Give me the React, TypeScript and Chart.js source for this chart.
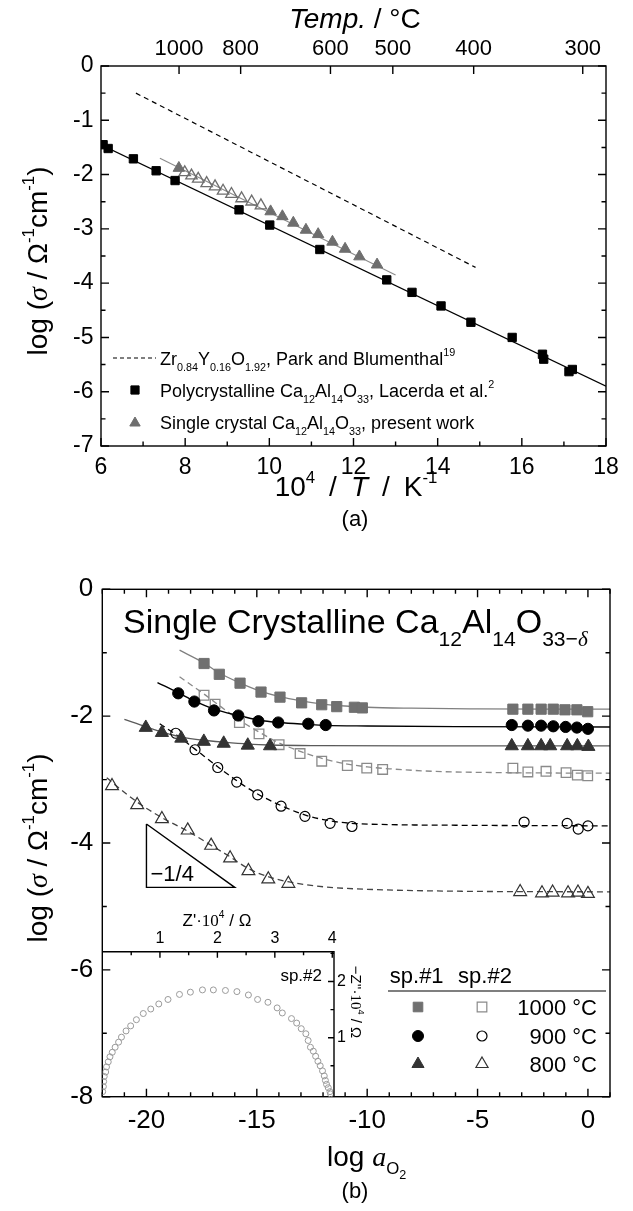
import React, { useEffect, useRef } from "react";
import { Chart, registerables } from "chart.js";
Chart.register(...registerables);

const SANS = "'Liberation Sans', Arial, Helvetica, sans-serif";
const SERIF = "'Liberation Serif', 'Times New Roman', serif";

type P = [number, number];

// ---------- (a) Arrhenius plot ----------
const tempTicks = [1000, 800, 600, 500, 400, 300];
const xTicksA = [6, 8, 10, 12, 14, 16, 18];
const yTicksA = [-7, -6, -5, -4, -3, -2, -1, 0];
const polyCa: P[] = [
  [6.05, -1.45], [6.17, -1.52], [6.77, -1.71], [7.31, -1.93], [7.76, -2.11], [9.28, -2.65],
  [10.01, -2.93], [11.2, -3.38], [12.79, -3.94], [13.39, -4.17], [14.08, -4.42], [14.79, -4.72],
  [15.77, -5.0], [16.49, -5.31], [16.52, -5.4], [17.12, -5.63], [17.2, -5.59],
];
const singleFilled: P[] = [
  [7.85, -1.88], [10.03, -2.68], [10.31, -2.77], [10.57, -2.89], [10.87, -3.02], [11.16, -3.1],
  [11.5, -3.24], [11.8, -3.37], [12.14, -3.51], [12.56, -3.66],
];
const singleHollow: P[] = [
  [7.99, -1.96], [8.15, -2.02], [8.31, -2.08], [8.51, -2.16], [8.71, -2.22], [8.9, -2.3],
  [9.1, -2.36], [9.34, -2.44], [9.58, -2.5], [9.8, -2.57],
];
const polyFit: P[] = [[6, -1.45], [18, -5.9]];
const singleFit: P[] = [[7.4, -1.7], [13.0, -3.85]];
const zrLine: P[] = [[6.83, -0.5], [14.9, -3.71]];

// ---------- (b) oxygen activity plot ----------
const xTicksB = [-20, -15, -10, -5, 0];
const yTicksB = [-8, -6, -4, -2, 0];
const sp1T1000: P[] = [
  [-17.39, -1.17], [-16.7, -1.34], [-15.76, -1.48], [-14.81, -1.62], [-13.95, -1.7], [-12.97, -1.79],
  [-12.06, -1.82], [-11.38, -1.85], [-10.58, -1.86], [-10.22, -1.87],
  [-3.4, -1.89], [-2.72, -1.89], [-2.12, -1.89], [-1.57, -1.89], [-1.04, -1.9], [-0.5, -1.9], [-0.01, -1.93],
];
const sp1T900: P[] = [
  [-18.56, -1.64], [-17.83, -1.77], [-16.94, -1.91], [-15.84, -1.99], [-14.93, -2.08], [-14.03, -2.1],
  [-12.67, -2.12], [-11.88, -2.14],
  [-3.45, -2.14], [-2.72, -2.15], [-2.12, -2.15], [-1.57, -2.16], [-1.01, -2.17], [-0.5, -2.18], [0.0, -2.2],
];
const sp1T800: P[] = [
  [-20.03, -2.18], [-19.3, -2.26], [-18.42, -2.35], [-17.4, -2.4], [-16.5, -2.43], [-15.41, -2.46], [-14.4, -2.47],
  [-3.45, -2.47], [-2.72, -2.47], [-2.12, -2.47], [-1.71, -2.47], [-0.94, -2.47], [-0.48, -2.47], [0.02, -2.48],
];
const sp2T1000: P[] = [
  [-17.39, -1.67], [-16.89, -1.81], [-15.79, -2.1], [-14.9, -2.28], [-13.99, -2.45], [-13.04, -2.59],
  [-12.06, -2.71], [-10.9, -2.78], [-10.02, -2.82], [-9.3, -2.84],
  [-3.4, -2.82], [-2.72, -2.88], [-1.9, -2.87], [-0.99, -2.89], [-0.48, -2.93], [-0.01, -2.94],
];
const sp2T900: P[] = [
  [-18.67, -2.27], [-17.8, -2.53], [-16.77, -2.81], [-15.91, -3.04], [-14.96, -3.24], [-13.9, -3.42],
  [-12.82, -3.58], [-11.68, -3.69], [-10.69, -3.74],
  [-2.89, -3.67], [-0.94, -3.69], [-0.44, -3.78], [0.0, -3.73],
];
const sp2T800: P[] = [
  [-21.56, -3.1], [-20.42, -3.4], [-19.3, -3.62], [-18.13, -3.8], [-17.07, -4.04], [-16.21, -4.24],
  [-15.38, -4.44], [-14.48, -4.57], [-13.57, -4.64],
  [-3.07, -4.77], [-2.08, -4.79], [-1.6, -4.78], [-0.9, -4.79], [-0.45, -4.78], [0.0, -4.8],
];
const fit1000a: P[] = [
  [-18.5, -0.96], [-17.4, -1.16], [-16.7, -1.32], [-15.8, -1.47], [-14.8, -1.61], [-14, -1.69], [-13, -1.76],
  [-12, -1.81], [-11, -1.84], [-10, -1.86], [-8, -1.875], [-5, -1.885], [-2, -1.89], [1, -1.89],
];
const fit900a: P[] = [
  [-19.5, -1.47], [-18.56, -1.63], [-17.83, -1.76], [-16.94, -1.89], [-15.84, -1.99], [-14.93, -2.06],
  [-14, -2.1], [-12.7, -2.13], [-11.9, -2.145], [-10, -2.155], [-6, -2.165], [1, -2.17],
];
const fit800a: P[] = [
  [-21, -2.05], [-20, -2.17], [-19.2, -2.26], [-18.4, -2.33], [-17.4, -2.38], [-16.5, -2.41], [-15.4, -2.44],
  [-14.4, -2.455], [-12, -2.465], [-8, -2.47], [1, -2.47],
];
const fit1000b: P[] = [
  [-18.5, -1.38], [-17.4, -1.65], [-16.9, -1.78], [-15.8, -2.06], [-14.9, -2.25], [-14, -2.42], [-13, -2.56],
  [-12, -2.67], [-11, -2.75], [-10, -2.8], [-9, -2.83], [-7, -2.87], [-4, -2.89], [1, -2.9],
];
const fit900b: P[] = [
  [-19.4, -2.12], [-18.67, -2.29], [-17.8, -2.52], [-16.8, -2.79], [-15.9, -3.02], [-15, -3.22], [-13.9, -3.41],
  [-12.8, -3.56], [-11.7, -3.65], [-10.7, -3.69], [-9, -3.71], [-6, -3.72], [1, -3.73],
];
const fit800b: P[] = [
  [-21.8, -2.97], [-21.5, -3.06], [-20.4, -3.36], [-19.3, -3.6], [-18.1, -3.82], [-17.1, -4.03], [-16.2, -4.22],
  [-15.4, -4.4], [-14.5, -4.53], [-13.6, -4.61], [-12, -4.69], [-10, -4.73], [-6, -4.76], [1, -4.77],
];
const slopeTriangle: P[] = [[-20, -3.7], [-20, -4.7], [-16, -4.7], [-20, -3.7]];

// ---------- inset: impedance arc ----------
const insetXTicks = [1, 2, 3, 4];
const insetYTicks = [1, 2];
const insetArc: P[] = [
  [0.003, 0.04], [0.015, 0.13], [0.02, 0.22], [0.03, 0.31], [0.055, 0.39], [0.07, 0.48], [0.1, 0.57],
  [0.13, 0.66], [0.17, 0.74], [0.22, 0.83], [0.28, 0.92], [0.33, 1.01], [0.41, 1.12], [0.49, 1.21],
  [0.59, 1.32], [0.71, 1.43], [0.84, 1.51], [0.98, 1.6], [1.14, 1.68], [1.34, 1.77], [1.53, 1.81],
  [1.74, 1.85], [1.93, 1.85], [2.14, 1.84], [2.34, 1.82], [2.54, 1.76], [2.7, 1.68], [2.88, 1.63],
  [3.04, 1.53], [3.13, 1.44], [3.29, 1.34], [3.38, 1.26], [3.46, 1.16], [3.54, 1.07], [3.58, 0.95],
  [3.62, 0.83], [3.67, 0.76], [3.71, 0.67], [3.75, 0.58], [3.79, 0.5], [3.83, 0.41], [3.86, 0.32],
  [3.88, 0.24], [3.9, 0.17], [3.93, 0.11], [3.96, 0.04], [3.97, 0.0],
];

const toPts = (a: P[]) => a.map(([x, y]) => ({ x, y }));

type Seg = { t: string; i?: boolean; f?: string; s?: number; d?: number };
const SUB = { s: 0.6, d: 0.36 };
const SUP = { s: 0.6, d: -0.45 };

function segFont(sg: Seg, size: number) {
  const sz = size * (sg.s ?? 1);
  return `${sg.i ? "italic " : ""}${sz}px ${sg.f === "serif" ? SERIF : SANS}`;
}

function drawRich(ctx: CanvasRenderingContext2D, segs: Seg[], x: number, y: number, size: number, align: "left" | "center" | "right" = "left") {
  ctx.save();
  ctx.textBaseline = "alphabetic";
  ctx.textAlign = "left";
  ctx.fillStyle = "#000";
  let total = 0;
  const ws = segs.map((sg) => {
    ctx.font = segFont(sg, size);
    const w = ctx.measureText(sg.t).width;
    total += w;
    return w;
  });
  let cx = align === "left" ? x : align === "center" ? x - total / 2 : x - total;
  segs.forEach((sg, k) => {
    ctx.font = segFont(sg, size);
    ctx.fillText(sg.t, cx, y + (sg.d ?? 0) * size);
    cx += ws[k];
  });
  ctx.restore();
}

function drawMarker(ctx: CanvasRenderingContext2D, kind: string, x: number, y: number, r: number, fill: string | null, stroke: string, lw = 1.2) {
  ctx.save();
  ctx.beginPath();
  if (kind === "rect") {
    const h = r * Math.SQRT1_2;
    ctx.rect(x - h, y - h, 2 * h, 2 * h);
  } else if (kind === "circle") {
    ctx.arc(x, y, r, 0, Math.PI * 2);
  } else {
    const a1 = (2 * Math.PI) / 3;
    ctx.moveTo(x, y - r);
    ctx.lineTo(x + r * Math.sin(a1), y - r * Math.cos(a1));
    ctx.lineTo(x + r * Math.sin(2 * a1), y - r * Math.cos(2 * a1));
    ctx.closePath();
  }
  if (fill) {
    ctx.fillStyle = fill;
    ctx.fill();
  }
  ctx.lineWidth = lw;
  ctx.strokeStyle = stroke;
  ctx.stroke();
  ctx.restore();
}

function linScale(o: { position: string; min: number; max: number; ticks: number[]; size: number; vertical: boolean; font: number; pad: number; label?: (v: number, i: number) => string }) {
  return {
    type: "linear",
    position: o.position,
    min: o.min,
    max: o.max,
    grid: { display: false, drawTicks: false },
    border: { display: false },
    ticks: {
      font: { family: SANS, size: o.font },
      color: "#000",
      padding: o.pad,
      autoSkip: false,
      maxRotation: 0,
      minRotation: 0,
      callback: (v: any, i: number) => (o.label ? o.label(v, i) : String(v)),
    },
    afterBuildTicks: (s: any) => {
      s.ticks = o.ticks.map((v) => ({ value: v }));
    },
    afterFit: (s: any) => {
      if (o.vertical) s.width = o.size;
      else s.height = o.size;
    },
  } as any;
}

const mk = (data: P[], style: string, r: number, fill: string, stroke: string, lw = 1, order = 0) => ({
  data: toPts(data),
  showLine: false,
  pointStyle: style,
  pointRadius: r,
  pointHoverRadius: r,
  pointBackgroundColor: fill,
  pointBorderColor: stroke,
  pointBorderWidth: lw,
  order,
});
const ln = (data: P[], color: string, width: number, dash: number[] = [], smooth = true, order = 10) => ({
  data: toPts(data),
  showLine: true,
  pointRadius: 0,
  pointHoverRadius: 0,
  borderColor: color,
  borderWidth: width,
  borderDash: dash,
  fill: false,
  cubicInterpolationMode: smooth ? "monotone" : "default",
  tension: 0,
  order,
});

const common = {
  responsive: false,
  animation: false,
  devicePixelRatio: 1,
  events: [],
  plugins: { legend: { display: false }, tooltip: { enabled: false } },
};

const TAU = (t: number) => 1e4 / (t + 273.15);

const logSigma: Seg[] = [
  { t: "log (" },
  { t: "σ", i: true, f: "serif" },
  { t: " / Ω" },
  { t: "-1", ...SUP },
  { t: "cm" },
  { t: "-1", ...SUP },
  { t: ")" },
];

function drawYTitle(ctx: CanvasRenderingContext2D, cx: number, cy: number) {
  ctx.save();
  ctx.translate(cx, cy);
  ctx.rotate(-Math.PI / 2);
  drawRich(ctx, logSigma, 0, 10, 28, "center");
  ctx.restore();
}

const SP = "\u2002";

const pluginA = {
  id: "decorA",
  afterDraw(chart: any) {
    const { ctx, chartArea: a, scales } = chart;
    const x = scales.x, y = scales.y;
    ctx.save();
    ctx.strokeStyle = "#000";
    ctx.lineWidth = 1.4;
    ctx.strokeRect(a.left, a.top, a.right - a.left, a.bottom - a.top);
    ctx.beginPath();
    for (let v = 6; v <= 18; v++) {
      const p = x.getPixelForValue(v);
      const L = v % 2 === 0 ? 8 : 4.5;
      ctx.moveTo(p, a.bottom);
      ctx.lineTo(p, a.bottom - L);
    }
    tempTicks.forEach((t) => {
      const p = x.getPixelForValue(TAU(t));
      ctx.moveTo(p, a.top);
      ctx.lineTo(p, a.top + 8);
    });
    for (let k = 0; k <= 14; k++) {
      const v = -7 + k * 0.5;
      const p = y.getPixelForValue(v);
      const L = k % 2 === 0 ? 8 : 4.5;
      ctx.moveTo(a.left, p);
      ctx.lineTo(a.left + L, p);
      ctx.moveTo(a.right, p);
      ctx.lineTo(a.right - L, p);
    }
    ctx.stroke();

    // titles
    drawRich(ctx, [{ t: "Temp.", i: true }, { t: " / °C" }], 355, 28, 28, "center");
    drawRich(ctx, [{ t: "10" }, { t: "4", ...SUP }, { t: SP + "/" + SP }, { t: "T", i: true }, { t: SP + "/" + SP + "K" }, { t: "-1", ...SUP }], 356, 496, 28, "center");
    drawRich(ctx, [{ t: "(a)" }], 355, 526, 22, "center");
    drawYTitle(ctx, 37, 261);

    // legend
    ctx.beginPath();
    ctx.setLineDash([4, 3]);
    ctx.lineWidth = 1.2;
    ctx.moveTo(113, 358);
    ctx.lineTo(156, 358);
    ctx.stroke();
    ctx.setLineDash([]);
    drawMarker(ctx, "rect", 135, 390, 5.8, "#000", "#000", 1);
    drawMarker(ctx, "triangle", 135, 423, 6, "#6e6e6e", "#6e6e6e", 1);
    const fs = 18;
    drawRich(ctx, [{ t: "Zr" }, { t: "0.84", ...SUB }, { t: "Y" }, { t: "0.16", ...SUB }, { t: "O" }, { t: "1.92", ...SUB }, { t: ", Park and Blumenthal" }, { t: "19", ...SUP }], 160, 364.5, fs);
    drawRich(ctx, [{ t: "Polycrystalline Ca" }, { t: "12", ...SUB }, { t: "Al" }, { t: "14", ...SUB }, { t: "O" }, { t: "33", ...SUB }, { t: ", Lacerda et al." }, { t: "2", ...SUP }], 160, 396.5, fs);
    drawRich(ctx, [{ t: "Single crystal Ca" }, { t: "12", ...SUB }, { t: "Al" }, { t: "14", ...SUB }, { t: "O" }, { t: "33", ...SUB }, { t: ", present work" }], 160, 428.5, fs);
    ctx.restore();
  },
};

const OFFB = 545;
const pluginB = {
  id: "decorB",
  afterDraw(chart: any) {
    const { ctx, chartArea: a, scales } = chart;
    const x = scales.x, y = scales.y;
    ctx.save();
    ctx.strokeStyle = "#000";
    ctx.lineWidth = 1.4;
    ctx.strokeRect(a.left, a.top, a.right - a.left, a.bottom - a.top);
    ctx.beginPath();
    for (let v = -22; v <= 1; v++) {
      const p = x.getPixelForValue(v);
      const L = v % 5 === 0 ? 8 : 4.5;
      ctx.moveTo(p, a.bottom);
      ctx.lineTo(p, a.bottom - L);
      ctx.moveTo(p, a.top);
      ctx.lineTo(p, a.top + L);
    }
    for (let v = -8; v <= 0; v++) {
      const p = y.getPixelForValue(v);
      const L = v % 2 === 0 ? 8 : 4.5;
      ctx.moveTo(a.left, p);
      ctx.lineTo(a.left + L, p);
      ctx.moveTo(a.right, p);
      ctx.lineTo(a.right - L, p);
    }
    ctx.stroke();

    // panel title
    drawRich(ctx, [
      { t: "Single Crystalline Ca" },
      { t: "12", s: 0.62, d: 0.4 },
      { t: "Al" },
      { t: "14", s: 0.62, d: 0.4 },
      { t: "O" },
      { t: "33−", s: 0.62, d: 0.4 },
      { t: "δ", s: 0.62, d: 0.4, i: true, f: "serif" },
    ], 123, 632.7 - OFFB, 34);

    // slope label
    drawRich(ctx, [{ t: "−1/4" }], x.getPixelForValue(-20) + 4, y.getPixelForValue(-4.7) - 6, 22);

    // axis titles
    drawRich(ctx, [{ t: "log " }, { t: "a", i: true, f: "serif" }, { t: "O", s: 0.6, d: 0.3 }, { t: "2", s: 0.45, d: 0.45 }], 327, 1166 - OFFB, 28);
    drawRich(ctx, [{ t: "(b)" }], 355, 1198 - OFFB, 22, "center");
    drawYTitle(ctx, 37, 848 - OFFB);

    // legend
    drawRich(ctx, [{ t: "sp.#1" }], 416.7, 983 - OFFB, 22, "center");
    drawRich(ctx, [{ t: "sp.#2" }], 485, 983 - OFFB, 22, "center");
    ctx.beginPath();
    ctx.lineWidth = 1.2;
    ctx.moveTo(388, 991 - OFFB);
    ctx.lineTo(606, 991 - OFFB);
    ctx.stroke();
    const rows = [
      { yy: 1007, lab: "1000 °C", k: "rect", f: "#707070", s: "#707070", o: "#8a8a8a", r1: 6.8, r2: 6.8 },
      { yy: 1036, lab: "900 °C", k: "circle", f: "#000", s: "#000", o: "#000", r1: 5.5, r2: 5 },
      { yy: 1064, lab: "800 °C", k: "triangle", f: "#333", s: "#333", o: "#333", r1: 7, r2: 7 },
    ];
    rows.forEach((r) => {
      const yy = r.yy - OFFB;
      drawMarker(ctx, r.k, 418, yy, r.r1, r.f, r.s, 1);
      drawMarker(ctx, r.k, 482, yy, r.r2, null, r.o, 1.2);
      drawRich(ctx, [{ t: r.lab }], 597, yy + 8, 22, "right");
    });
    ctx.restore();
  },
};

const OFFCX = 40, OFFCY = 890;
const pluginC = {
  id: "decorC",
  afterDraw(chart: any) {
    const { ctx, chartArea: a, scales } = chart;
    const x = scales.x, y = scales.y;
    ctx.save();
    ctx.strokeStyle = "#000";
    ctx.lineWidth = 1.4;
    ctx.beginPath();
    ctx.moveTo(a.left, a.top);
    ctx.lineTo(a.right, a.top);
    ctx.lineTo(a.right, a.bottom);
    ctx.stroke();
    ctx.beginPath();
    for (let k = 1; k <= 8; k++) {
      const v = k * 0.5;
      const p = x.getPixelForValue(v);
      const L = k % 2 === 0 ? 6 : 3.5;
      ctx.moveTo(p, a.top);
      ctx.lineTo(p, a.top + L);
    }
    for (let k = 1; k <= 5; k++) {
      const v = k * 0.5;
      const p = y.getPixelForValue(v);
      const L = k % 2 === 0 ? 6 : 3.5;
      ctx.moveTo(a.right, p);
      ctx.lineTo(a.right - L, p);
    }
    ctx.stroke();
    drawRich(ctx, [{ t: "Z'·" }, { t: "10", f: "serif" }, { t: "4", ...SUP }, { t: " / Ω" }], 217 - OFFCX, 926 - OFFCY, 17, "center");
    drawRich(ctx, [{ t: "sp.#2" }], 322 - OFFCX, 981 - OFFCY, 17, "right");
    ctx.save();
    ctx.translate(356 - OFFCX, 1002 - OFFCY);
    ctx.rotate(Math.PI / 2);
    drawRich(ctx, [{ t: "−Z''·" }, { t: "10", f: "serif" }, { t: "4", ...SUP }, { t: " / Ω" }], 0, 5, 15, "center");
    ctx.restore();
    ctx.restore();
  },
};

const cfgA: any = {
  type: "scatter",
  data: {
    datasets: [
      mk(polyCa, "rect", 5.9, "#000", "#000", 1, 0),
      mk(singleFilled, "triangle", 6.6, "#6e6e6e", "#6e6e6e", 1, 1),
      mk(singleHollow, "triangle", 6.6, "rgba(0,0,0,0)", "#6e6e6e", 1.3, 1),
      ln(polyFit, "#000", 1.2, [], false),
      ln(singleFit, "#8c8c8c", 1.2, [], false),
      ln(zrLine, "#000", 1.2, [5, 4], false),
    ],
  },
  options: {
    ...common,
    layout: { padding: { left: 0, right: 27, top: 0, bottom: 0 } },
    scales: {
      x: linScale({ position: "bottom", min: 6, max: 18, ticks: xTicksA, size: 99, vertical: false, font: 23, pad: 7.5 }),
      xt: linScale({ position: "top", min: 6, max: 18, ticks: tempTicks.map(TAU), size: 66, vertical: false, font: 22, pad: 4, label: (_v, i) => String(tempTicks[i]) }),
      y: linScale({ position: "left", min: -7, max: 0, ticks: yTicksA, size: 101, vertical: true, font: 23, pad: 7.5 }),
    },
  },
  plugins: [pluginA],
};

const cfgB: any = {
  type: "scatter",
  data: {
    datasets: [
      mk(sp1T1000, "rect", 7.2, "#707070", "#707070", 1, 0),
      mk(sp1T900, "circle", 5.6, "#000", "#000", 1, 0),
      mk(sp1T800, "triangle", 7.6, "#333", "#333", 1, 0),
      mk(sp2T1000, "rect", 6.8, "rgba(0,0,0,0)", "#8a8a8a", 1.3, 1),
      mk(sp2T900, "circle", 5, "rgba(0,0,0,0)", "#000", 1.2, 1),
      mk(sp2T800, "triangle", 7.4, "rgba(0,0,0,0)", "#333", 1.2, 1),
      ln(fit1000a, "#808080", 1.3),
      ln(fit900a, "#000", 1.4),
      ln(fit800a, "#5a5a5a", 1.3),
      ln(fit1000b, "#8a8a8a", 1.3, [6, 4]),
      ln(fit900b, "#000", 1.3, [6, 4]),
      ln(fit800b, "#444", 1.3, [6, 4]),
      ln(slopeTriangle, "#000", 1.4, [], false, 12),
    ],
  },
  options: {
    ...common,
    layout: { padding: { left: 0, right: 23, top: 44.3, bottom: 0 } },
    scales: {
      x: linScale({ position: "bottom", min: -22, max: 1, ticks: xTicksB, size: 114.3, vertical: false, font: 26, pad: 9 }),
      y: linScale({ position: "left", min: -8, max: 0, ticks: yTicksB, size: 102.3, vertical: true, font: 26, pad: 9 }),
    },
  },
  plugins: [pluginB],
};

const cfgC: any = {
  type: "scatter",
  data: {
    datasets: [mk(insetArc, "circle", 3, "rgba(0,0,0,0)", "#9a9a9a", 1, 0)],
  },
  options: {
    ...common,
    layout: { padding: { left: 62.5, right: 0, top: 0, bottom: 13.3 } },
    scales: {
      x: linScale({ position: "top", min: 0, max: 4.03, ticks: insetXTicks, size: 61.7, vertical: false, font: 16, pad: 3.5 }),
      y: linScale({ position: "right", min: -0.05, max: 2.53, ticks: insetYTicks, size: 46, vertical: true, font: 16, pad: 3 }),
    },
  },
  plugins: [pluginC],
};

export default function App() {
  const refA = useRef<HTMLCanvasElement>(null);
  const refB = useRef<HTMLCanvasElement>(null);
  const refC = useRef<HTMLCanvasElement>(null);
  useEffect(() => {
    const charts = [
      new Chart(refA.current as HTMLCanvasElement, cfgA),
      new Chart(refB.current as HTMLCanvasElement, cfgB),
      new Chart(refC.current as HTMLCanvasElement, cfgC),
    ];
    return () => charts.forEach((c) => c.destroy());
  }, []);
  return (
    <div style={{ position: "absolute", left: 0, top: 0, width: 633, height: 1211, background: "#fff" }}>
      <canvas ref={refA} width={633} height={545} style={{ position: "absolute", left: 0, top: 0 }} />
      <canvas ref={refB} width={633} height={666} style={{ position: "absolute", left: 0, top: 545 }} />
      <canvas ref={refC} width={340} height={220} style={{ position: "absolute", left: 40, top: 890 }} />
    </div>
  );
}
